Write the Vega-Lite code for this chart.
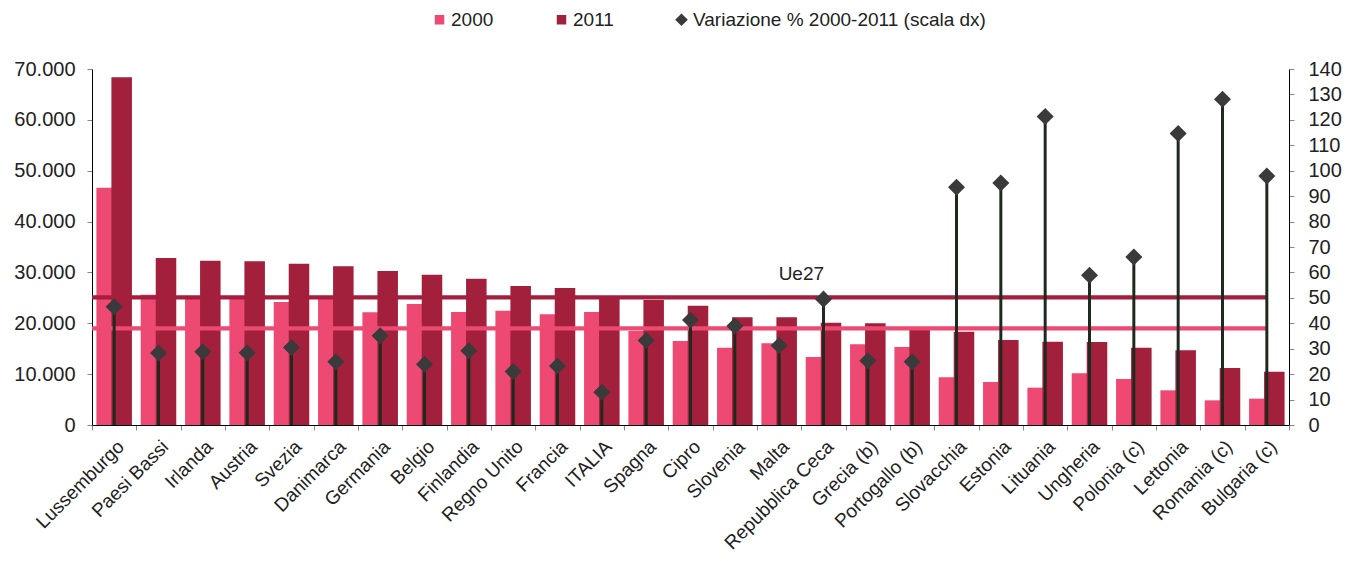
{
  "$schema": "https://vega.github.io/schema/vega-lite/v6.json",
  "width": 1197,
  "height": 356,
  "autosize": {"type": "none"},
  "padding": {"left": 92, "top": 69, "right": 68, "bottom": 136},
  "background": "white",
  "config": {
    "view": {"stroke": null},
    "font": "Liberation Sans",
    "axis": {"grid": false, "domainColor": "#000000", "tickColor": "#888888", "tickSize": 5, "labelColor": "#222222", "labelFont": "Liberation Sans", "title": null}
  },
  "data": {"values": [
    {"paese": "Lussemburgo", "v2000": 46670, "v2011": 68370, "var": 46.5},
    {"paese": "Paesi Bassi", "v2000": 25600, "v2011": 32840, "var": 28.3},
    {"paese": "Irlanda", "v2000": 25090, "v2011": 32310, "var": 28.8},
    {"paese": "Austria", "v2000": 25060, "v2011": 32180, "var": 28.4},
    {"paese": "Svezia", "v2000": 24190, "v2011": 31720, "var": 30.5},
    {"paese": "Danimarca", "v2000": 24980, "v2011": 31200, "var": 24.9},
    {"paese": "Germania", "v2000": 22160, "v2011": 30280, "var": 35.1},
    {"paese": "Belgio", "v2000": 23790, "v2011": 29560, "var": 23.9},
    {"paese": "Finlandia", "v2000": 22220, "v2011": 28770, "var": 29.2},
    {"paese": "Regno Unito", "v2000": 22480, "v2011": 27330, "var": 21.0},
    {"paese": "Francia", "v2000": 21760, "v2011": 26940, "var": 23.2},
    {"paese": "ITALIA", "v2000": 22220, "v2011": 25150, "var": 12.9},
    {"paese": "Spagna", "v2000": 18500, "v2011": 24580, "var": 33.2},
    {"paese": "Cipro", "v2000": 16520, "v2011": 23470, "var": 41.3},
    {"paese": "Slovenia", "v2000": 15200, "v2011": 21170, "var": 38.9},
    {"paese": "Malta", "v2000": 16060, "v2011": 21170, "var": 31.3},
    {"paese": "Repubblica Ceca", "v2000": 13370, "v2011": 20120, "var": 49.5},
    {"paese": "Grecia (b)", "v2000": 15860, "v2011": 20000, "var": 25.3},
    {"paese": "Portogallo (b)", "v2000": 15340, "v2011": 19100, "var": 24.9},
    {"paese": "Slovacchia", "v2000": 9370, "v2011": 18350, "var": 93.5},
    {"paese": "Estonia", "v2000": 8450, "v2011": 16710, "var": 95.2},
    {"paese": "Lituania", "v2000": 7340, "v2011": 16390, "var": 121.3},
    {"paese": "Ungheria", "v2000": 10160, "v2011": 16320, "var": 58.9},
    {"paese": "Polonia (c)", "v2000": 9040, "v2011": 15200, "var": 66.1},
    {"paese": "Lettonia", "v2000": 6820, "v2011": 14680, "var": 114.6},
    {"paese": "Romania (c)", "v2000": 4850, "v2011": 11210, "var": 128.1},
    {"paese": "Bulgaria (c)", "v2000": 5180, "v2011": 10490, "var": 97.9}
  ]},
  "encoding": {
    "x": {
      "field": "paese", "type": "nominal", "sort": null,
      "scale": {"paddingInner": 0, "paddingOuter": 0},
      "axis": {"labelAngle": -45, "labelFontSize": 19, "tickBand": "extent", "labelPadding": 7, "labelDx": -10, "labelLimit": 300, "title": null}
    }
  },
  "layer": [
    {
      "layer": [
        {
          "mark": {"type": "bar", "width": {"band": 0.463}, "xOffset": -7.5},
          "encoding": {
            "y": {"field": "v2000", "type": "quantitative", "scale": {"domain": [0, 70000], "nice": false}, "axis": {"orient": "left", "values": [0, 10000, 20000, 30000, 40000, 50000, 60000, 70000], "labelExpr": "replace(format(datum.value, ','), ',', '.')", "labelFontSize": 20, "labelPadding": 12, "title": null}},
            "color": {
              "datum": "2000", "type": "nominal",
              "scale": {"domain": ["2000", "2011", "Variazione % 2000-2011 (scala dx)"], "range": ["#ED4973", "#A3203D", "#3A3A3A"]},
              "legend": {
                "title": null, "orient": "none", "direction": "horizontal", "legendX": 338, "legendY": -59,
                "labelFontSize": 19, "labelColor": "#222222", "labelFont": "Liberation Sans", "labelOffset": 2, "columnPadding": 58, "labelLimit": 500,
                "symbolType": "square", "symbolStrokeWidth": 0,
                "encode": {"symbols": {"update": {
                  "shape": {"signal": "datum.value === 'Variazione % 2000-2011 (scala dx)' ? 'diamond' : 'square'"},
                  "size": {"signal": "datum.value === 'Variazione % 2000-2011 (scala dx)' ? 160 : 90"}
                }}}
              }
            }
          }
        },
        {
          "mark": {"type": "bar", "width": {"band": 0.463}, "xOffset": 7.5},
          "encoding": {
            "y": {"field": "v2011", "type": "quantitative", "axis": {"orient": "left", "values": [0, 10000, 20000, 30000, 40000, 50000, 60000, 70000], "labelExpr": "replace(format(datum.value, ','), ',', '.')", "labelFontSize": 20, "labelPadding": 12, "title": null}},
            "color": {"datum": "2011", "type": "nominal"}
          }
        },
        {
          "data": {"values": [{"serie": "Ue27 2011", "media": 25100}, {"serie": "Ue27 2000", "media": 19000}]},
          "mark": {"type": "rule", "strokeWidth": 4.3},
          "encoding": {
            "x": {"datum": "Lussemburgo", "type": "nominal", "bandPosition": 0},
            "x2": {"datum": "Bulgaria (c)", "bandPosition": 0.5},
            "y": {"field": "media", "type": "quantitative"},
            "stroke": {"field": "serie", "type": "nominal", "scale": {"domain": ["Ue27 2011", "Ue27 2000"], "range": ["#A41F3C", "#EC4A72"]}, "legend": null}
          }
        },
        {
          "data": {"values": [{"etichetta": "Ue27", "media": 25100, "paese": "Malta"}]},
          "mark": {"type": "text", "fontSize": 19, "color": "#222222", "font": "Liberation Sans", "baseline": "alphabetic", "align": "center", "dy": -17},
          "encoding": {
            "x": {"field": "paese", "type": "nominal", "bandPosition": 1},
            "y": {"field": "media", "type": "quantitative"},
            "text": {"field": "etichetta"}
          }
        }
      ]
    },
    {
      "layer": [
        {
          "mark": {"type": "rule", "color": "#1E2A1E", "strokeWidth": 3},
          "encoding": {
            "y": {"field": "var", "type": "quantitative", "scale": {"domain": [0, 140], "nice": false}, "axis": {"orient": "right", "values": [0, 10, 20, 30, 40, 50, 60, 70, 80, 90, 100, 110, 120, 130, 140], "labelFontSize": 20, "labelPadding": 14, "title": null}},
            "y2": {"datum": 0}
          }
        },
        {
          "mark": {"type": "point", "shape": "diamond", "filled": true, "size": 290, "opacity": 1},
          "encoding": {
            "y": {"field": "var", "type": "quantitative", "axis": {"orient": "right", "values": [0, 10, 20, 30, 40, 50, 60, 70, 80, 90, 100, 110, 120, 130, 140], "labelFontSize": 20, "labelPadding": 14, "title": null}},
            "color": {"datum": "Variazione % 2000-2011 (scala dx)", "type": "nominal"}
          }
        }
      ]
    }
  ],
  "resolve": {"scale": {"y": "independent"}}
}
